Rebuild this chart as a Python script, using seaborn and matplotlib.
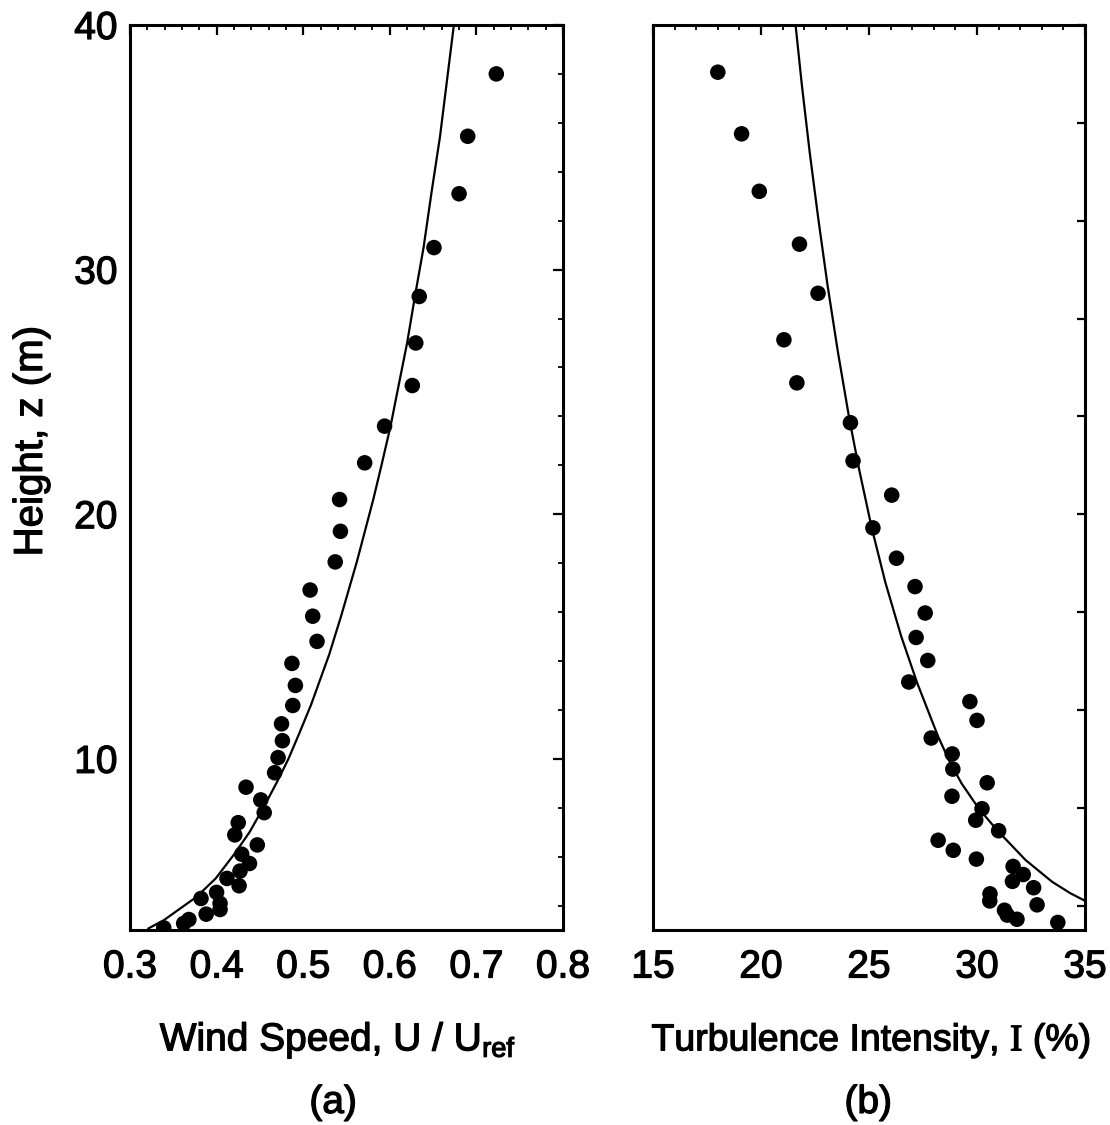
import matplotlib
matplotlib.use("Agg")
import numpy as np
import pandas as pd
import matplotlib.pyplot as plt
import matplotlib.patheffects as pe
from matplotlib.ticker import MultipleLocator
import seaborn as sns

# measured points, panel (a): wind speed vs height
speed_u = [0.723, 0.690, 0.680, 0.651, 0.634, 0.630, 0.626, 0.594, 0.571,
           0.542, 0.543, 0.537, 0.508, 0.511, 0.516, 0.487, 0.491, 0.488,
           0.475, 0.476, 0.471, 0.467, 0.434, 0.451, 0.455, 0.425, 0.421,
           0.447, 0.429, 0.438, 0.427, 0.412, 0.426, 0.400, 0.382, 0.404,
           0.404, 0.388, 0.368, 0.362, 0.339]
speed_z = [38.0, 35.45, 33.1, 30.9, 28.9, 27.0, 25.26, 23.6, 22.1,
           20.6, 19.3, 18.05, 16.9, 15.83, 14.8, 13.9, 13.0, 12.18,
           11.43, 10.74, 10.05, 9.43, 8.84, 8.32, 7.8, 7.39, 6.89,
           6.48, 6.1, 5.72, 5.41, 5.11, 4.81, 4.54, 4.29, 4.09,
           3.84, 3.65, 3.43, 3.27, 3.09]

# fitted profile, panel (a)
fit_u = [0.321, 0.339, 0.377, 0.399, 0.421, 0.438, 0.454, 0.469, 0.483,
         0.495, 0.509, 0.530, 0.544, 0.562, 0.581, 0.591, 0.601, 0.610,
         0.620, 0.629, 0.639, 0.648, 0.658, 0.674]
fit_uz = [3.06, 3.40, 4.36, 5.11, 6.13, 7.0, 8.0, 9.0, 10.0,
          11.0, 12.2, 14.26, 15.86, 18.06, 20.61, 22.09, 23.62, 25.23,
          27.0, 28.9, 30.9, 33.11, 35.44, 40.0]

# measured points, panel (b): turbulence intensity vs height
turb_i = [18.0, 19.1, 19.92, 21.78, 22.64, 21.06, 21.66, 24.14, 24.26,
          26.05, 25.18, 26.27, 27.13, 27.6, 27.18, 27.72, 26.84, 29.67,
          30.0, 27.88, 28.85, 28.88, 30.47, 28.84, 30.23, 29.94, 31.0,
          28.2, 28.9, 29.97, 31.67, 32.14, 31.64, 32.62, 30.6, 30.59,
          32.78, 31.27, 31.4, 31.85, 33.74]
turb_z = [38.07, 35.55, 33.2, 31.04, 29.03, 27.13, 25.37, 23.74, 22.18,
          20.78, 19.44, 18.2, 17.04, 15.96, 14.96, 14.02, 13.14, 12.34,
          11.57, 10.85, 10.2, 9.58, 9.02, 8.47, 7.96, 7.49, 7.06,
          6.67, 6.26, 5.9, 5.6, 5.27, 4.99, 4.73, 4.48, 4.19,
          4.03, 3.81, 3.61, 3.44, 3.31]

# fitted profile, panel (b)
fit_i = [21.60, 21.89, 22.25, 22.65, 23.08, 23.56, 24.09, 24.54, 25.12,
         25.76, 26.49, 27.23, 28.20, 28.73, 29.28, 30.07, 30.92, 32.25,
         33.48, 34.33, 35.10]
fit_iz = [40.0, 37.55, 34.82, 32.09, 29.36, 26.63, 23.89, 21.84, 19.46,
          17.2, 15.01, 13.1, 10.91, 9.89, 9.0, 7.98, 7.09, 5.86,
          4.97, 4.5, 4.15]

sns.set_style("white")
plt.rcParams['font.family'] = ['Liberation Sans', 'DejaVu Sans']
plt.rcParams['mathtext.fontset'] = 'custom'
plt.rcParams['mathtext.rm'] = 'Liberation Serif'
plt.rcParams.update({
    'axes.linewidth': 2.2,
    'text.color': 'black',
    'axes.labelcolor': 'black',
    'xtick.color': 'black',
    'ytick.color': 'black',
    'axes.edgecolor': 'black',
})
# scanned print look: slightly heavier glyphs
ink = [pe.withStroke(linewidth=0.9, foreground='black')]

fig = plt.figure(figsize=(11.1, 11.25), dpi=100)
ax_a = fig.add_axes([0.1171, 0.1733, 0.3901, 0.8045])
ax_b = fig.add_axes([0.5883, 0.1733, 0.3892, 0.8045])

pts_a = pd.DataFrame({'u': speed_u, 'z': speed_z})
line_a = pd.DataFrame({'u': fit_u, 'z': fit_uz})
pts_b = pd.DataFrame({'i': turb_i, 'z': turb_z})
line_b = pd.DataFrame({'i': fit_i, 'z': fit_iz})

sns.lineplot(data=line_a, x='u', y='z', sort=False, estimator=None,
             color='black', linewidth=1.6, ax=ax_a)
sns.scatterplot(data=pts_a, x='u', y='z', color='black', s=125,
                edgecolor='none', ax=ax_a)
sns.lineplot(data=line_b, x='i', y='z', sort=False, estimator=None,
             color='black', linewidth=1.6, ax=ax_b)
sns.scatterplot(data=pts_b, x='i', y='z', color='black', s=125,
                edgecolor='none', ax=ax_b)

for ax in (ax_a, ax_b):
    ax.set_ylim(3, 40)
    ax.tick_params(which='both', direction='in', top=True, right=True,
                   labelsize=28)
    ax.tick_params(which='major', length=7, width=1.6)
    ax.tick_params(which='minor', length=3.6, width=1.3)
    ax.tick_params(axis='x', pad=14)
    ax.tick_params(axis='y', pad=9)

ax_a.set_xlim(0.3, 0.8)
ax_a.xaxis.set_major_locator(MultipleLocator(0.1))
ax_a.xaxis.set_minor_locator(MultipleLocator(0.02))
ax_a.yaxis.set_major_locator(MultipleLocator(10))
ax_a.yaxis.set_minor_locator(MultipleLocator(2))
ax_a.set_xticks([0.3, 0.4, 0.5, 0.6, 0.7, 0.8])
ax_a.set_xticklabels(['0.3', '0.4', '0.5', '0.6', '0.7', '0.8'])
ax_a.set_yticks([10, 20, 30, 40])
ax_a.set_yticklabels(['10', '20', '30', '40'])

ax_b.set_xlim(15, 35)
ax_b.xaxis.set_major_locator(MultipleLocator(5))
ax_b.xaxis.set_minor_locator(MultipleLocator(1))
ax_b.yaxis.set_major_locator(MultipleLocator(4))
ax_b.tick_params(axis='y', which='major', length=5.5)
ax_b.set_yticklabels([])

ax_a.set_xlabel(r'Wind Speed, U / U$_{\mathregular{ref}}$', fontsize=28)
ax_a.xaxis.set_label_coords(0.48, -0.100)
ax_a.set_ylabel('Height, z (m)', fontsize=29)
ax_a.yaxis.set_label_coords(-0.185, 0.54)
ax_b.set_xlabel(r'Turbulence Intensity, $\mathrm{I}$ (%)', fontsize=27)
ax_b.xaxis.set_label_coords(0.505, -0.100)
ax_b.set_ylabel('')

ax_a.text(0.469, -0.191, '(a)', transform=ax_a.transAxes, fontsize=28,
          ha='center', va='center')
ax_b.text(0.498, -0.191, '(b)', transform=ax_b.transAxes, fontsize=28,
          ha='center', va='center')

for t in fig.findobj(matplotlib.text.Text):
    t.set_path_effects(ink)

fig.savefig('out.png', dpi=100)
